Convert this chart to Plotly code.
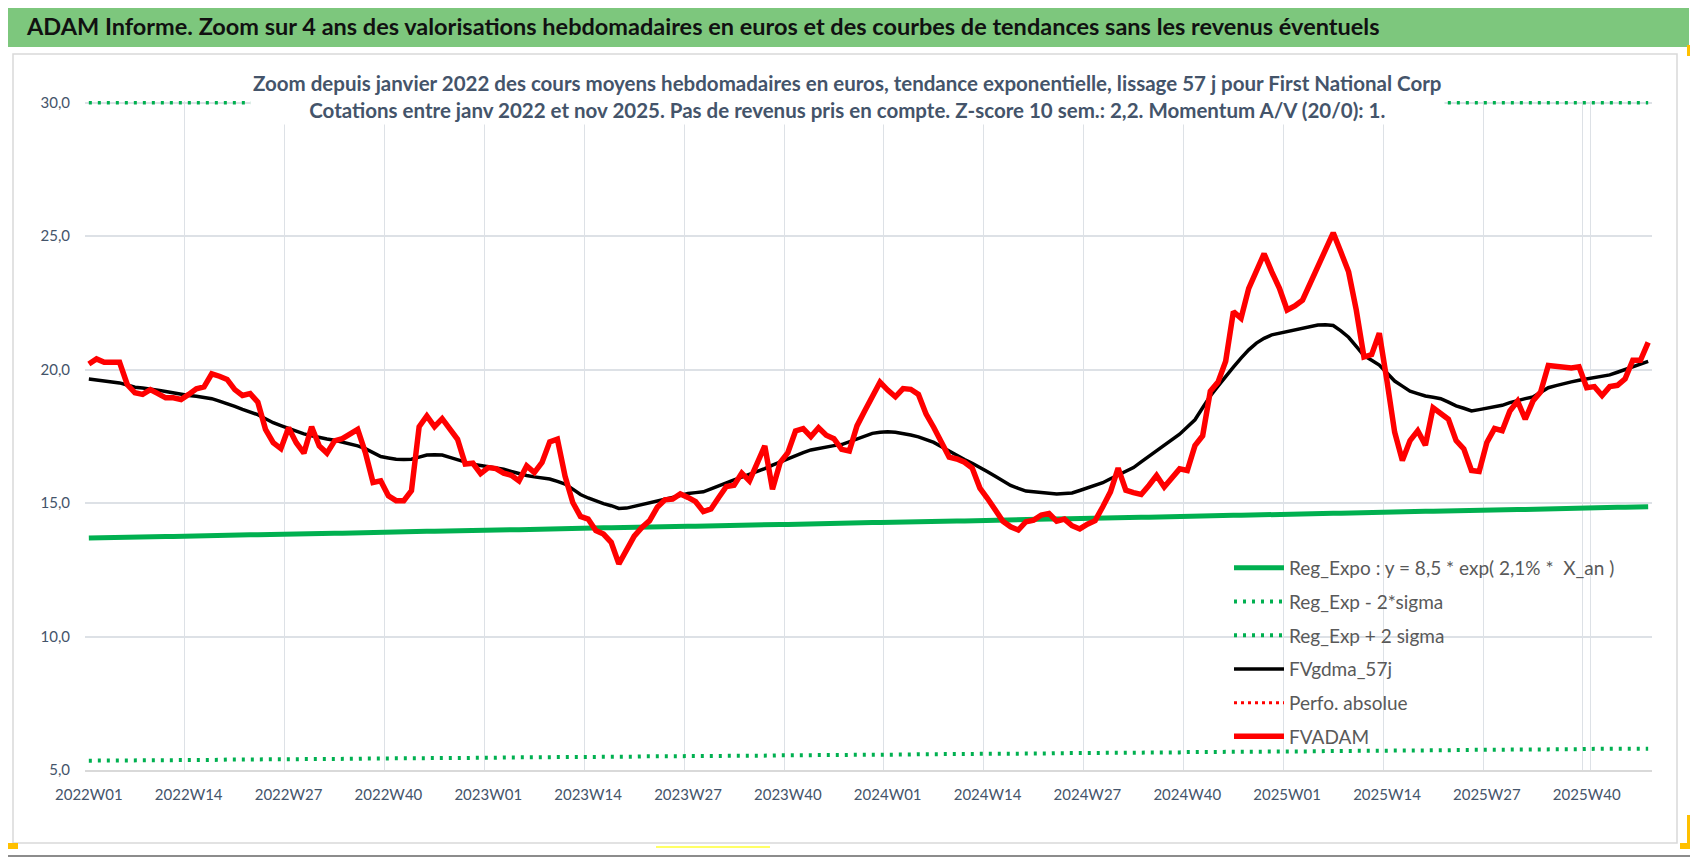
import plotly.graph_objects as go

# weekly categories 2022W01 .. 2025W48
weeks = [f"{y}W{w:02d}" for y in (2022, 2023, 2024, 2025) for w in range(1, 53)][:204]
tick_labels = weeks[::13]

fvadam = [
    20.21, 20.40, 20.27, 20.27, 20.27, 19.44, 19.13, 19.07, 19.25, 19.10,
    18.94, 18.94, 18.88, 19.07, 19.28, 19.35, 19.84, 19.75, 19.63, 19.25,
    19.03, 19.10, 18.78, 17.76, 17.26, 17.04, 17.82, 17.26, 16.87, 17.86,
    17.14, 16.87, 17.33, 17.41, 17.57, 17.76, 16.89, 15.77, 15.83, 15.27,
    15.09, 15.09, 15.46, 17.86, 18.26, 17.86, 18.16, 17.79, 17.39, 16.46,
    16.49, 16.10, 16.33, 16.29, 16.12, 16.04, 15.83, 16.39, 16.14, 16.52,
    17.29, 17.39, 16.00, 15.02, 14.50, 14.40, 13.97, 13.84, 13.53, 12.72,
    13.22, 13.76, 14.09, 14.34, 14.84, 15.12, 15.15, 15.34, 15.21, 15.05,
    14.68, 14.78, 15.21, 15.62, 15.67, 16.12, 15.83, 16.52, 17.14, 15.52,
    16.52, 16.89, 17.70, 17.79, 17.49, 17.82, 17.54, 17.41, 17.01, 16.95,
    17.89, 18.45, 18.95, 19.53, 19.23, 18.98, 19.29, 19.26, 19.07, 18.33,
    17.83, 17.27, 16.72, 16.65, 16.53, 16.31, 15.56, 15.17, 14.70, 14.32,
    14.11, 13.99, 14.30, 14.36, 14.55, 14.61, 14.32, 14.40, 14.15, 14.03,
    14.21, 14.34, 14.86, 15.42, 16.31, 15.48, 15.39, 15.32, 15.66, 16.03,
    15.60, 15.91, 16.28, 16.22, 17.15, 17.52, 19.19, 19.53, 20.31, 22.17,
    21.92, 23.04, 23.70, 24.34, 23.66, 23.04, 22.23, 22.38, 22.60, 23.22,
    23.87, 24.46, 25.12, 24.40, 23.66, 22.23, 20.47, 20.56, 21.36, 19.57,
    17.65, 16.59, 17.34, 17.71, 17.17, 18.57, 18.36, 18.14, 17.34, 17.03,
    16.22, 16.18, 17.27, 17.79, 17.71, 18.45, 18.82, 18.14, 18.82, 19.16,
    20.15, 20.12, 20.06, 20.06, 20.10, 19.32, 19.36, 19.03, 19.36, 19.41,
    19.65, 20.35, 20.35, 21.02,
]

fvgdma_57j = [
    19.65, 19.61, 19.56, 19.53, 19.50, 19.42, 19.34, 19.31, 19.28, 19.23,
    19.18, 19.12, 19.07, 19.03, 19.00, 18.96, 18.91, 18.82, 18.73, 18.62,
    18.51, 18.41, 18.31, 18.16, 18.01, 17.90, 17.79, 17.69, 17.59, 17.52,
    17.45, 17.40, 17.35, 17.29, 17.23, 17.14, 17.04, 16.89, 16.74, 16.69,
    16.64, 16.63, 16.64, 16.72, 16.80, 16.81, 16.80, 16.71, 16.62, 16.52,
    16.45, 16.41, 16.37, 16.32, 16.27, 16.18, 16.09, 16.03, 15.98, 15.94,
    15.90, 15.81, 15.71, 15.52, 15.32, 15.19, 15.07, 14.98, 14.90, 14.80,
    14.81, 14.87, 14.93, 15.00, 15.07, 15.14, 15.21, 15.29, 15.36, 15.39,
    15.42, 15.53, 15.65, 15.76, 15.87, 15.97, 16.07, 16.18, 16.29, 16.42,
    16.54, 16.67, 16.79, 16.89, 16.99, 17.05, 17.11, 17.15, 17.19, 17.29,
    17.39, 17.51, 17.61, 17.65, 17.67, 17.65, 17.61, 17.55, 17.48, 17.38,
    17.27, 17.11, 16.94, 16.79, 16.63, 16.49, 16.34, 16.17, 16.00, 15.83,
    15.66, 15.55, 15.45, 15.42, 15.39, 15.37, 15.34, 15.36, 15.38, 15.47,
    15.56, 15.66, 15.76, 15.91, 16.06, 16.20, 16.33, 16.54, 16.75, 16.95,
    17.15, 17.37, 17.58, 17.85, 18.12, 18.57, 19.01, 19.38, 19.75, 20.09,
    20.43, 20.74, 20.99, 21.17, 21.30, 21.36, 21.41, 21.48, 21.54, 21.61,
    21.67, 21.68, 21.65, 21.45, 21.21, 20.87, 20.52, 20.35, 20.17, 19.87,
    19.57, 19.38, 19.19, 19.10, 19.01, 18.96, 18.91, 18.78, 18.64, 18.55,
    18.45, 18.50, 18.55, 18.60, 18.66, 18.76, 18.85, 18.91, 18.97, 19.15,
    19.32, 19.40, 19.48, 19.54, 19.60, 19.65, 19.69, 19.75, 19.80, 19.90,
    20.00, 20.11, 20.22, 20.31,
]

reg_expo = [
    13.69, 13.70, 13.70, 13.71, 13.71, 13.72, 13.72, 13.73, 13.73, 13.74,
    13.75, 13.75, 13.76, 13.76, 13.77, 13.77, 13.78, 13.78, 13.79, 13.80,
    13.80, 13.81, 13.81, 13.82, 13.82, 13.83, 13.84, 13.84, 13.85, 13.85,
    13.86, 13.86, 13.87, 13.87, 13.88, 13.89, 13.89, 13.90, 13.90, 13.91,
    13.91, 13.92, 13.92, 13.93, 13.94, 13.94, 13.95, 13.95, 13.96, 13.96,
    13.97, 13.97, 13.98, 13.99, 13.99, 14.00, 14.00, 14.01, 14.01, 14.02,
    14.03, 14.03, 14.04, 14.04, 14.05, 14.05, 14.06, 14.07, 14.07, 14.08,
    14.08, 14.09, 14.09, 14.10, 14.11, 14.11, 14.12, 14.12, 14.13, 14.13,
    14.14, 14.15, 14.15, 14.16, 14.16, 14.17, 14.17, 14.18, 14.19, 14.19,
    14.20, 14.20, 14.21, 14.21, 14.22, 14.23, 14.23, 14.24, 14.24, 14.25,
    14.25, 14.26, 14.27, 14.27, 14.28, 14.28, 14.29, 14.29, 14.30, 14.31,
    14.31, 14.32, 14.32, 14.33, 14.33, 14.34, 14.35, 14.35, 14.36, 14.36,
    14.37, 14.38, 14.38, 14.39, 14.39, 14.40, 14.40, 14.41, 14.42, 14.42,
    14.43, 14.43, 14.44, 14.45, 14.45, 14.46, 14.46, 14.47, 14.47, 14.48,
    14.49, 14.49, 14.50, 14.50, 14.51, 14.52, 14.52, 14.53, 14.53, 14.54,
    14.54, 14.55, 14.56, 14.56, 14.57, 14.57, 14.58, 14.59, 14.59, 14.60,
    14.60, 14.61, 14.62, 14.62, 14.63, 14.63, 14.64, 14.65, 14.65, 14.66,
    14.66, 14.67, 14.67, 14.68, 14.69, 14.69, 14.70, 14.70, 14.71, 14.72,
    14.72, 14.73, 14.73, 14.74, 14.75, 14.75, 14.76, 14.76, 14.77, 14.78,
    14.78, 14.79, 14.79, 14.80, 14.81, 14.81, 14.82, 14.82, 14.83, 14.84,
    14.84, 14.85, 14.85, 14.86,
]

reg_minus_2sigma = [
    5.35, 5.35, 5.35, 5.35, 5.36, 5.36, 5.36, 5.36, 5.37, 5.37,
    5.37, 5.37, 5.37, 5.38, 5.38, 5.38, 5.38, 5.38, 5.39, 5.39,
    5.39, 5.39, 5.40, 5.40, 5.40, 5.40, 5.40, 5.41, 5.41, 5.41,
    5.41, 5.42, 5.42, 5.42, 5.42, 5.42, 5.43, 5.43, 5.43, 5.43,
    5.44, 5.44, 5.44, 5.44, 5.44, 5.45, 5.45, 5.45, 5.45, 5.46,
    5.46, 5.46, 5.46, 5.46, 5.47, 5.47, 5.47, 5.47, 5.48, 5.48,
    5.48, 5.48, 5.48, 5.49, 5.49, 5.49, 5.49, 5.49, 5.50, 5.50,
    5.50, 5.50, 5.51, 5.51, 5.51, 5.51, 5.51, 5.52, 5.52, 5.52,
    5.52, 5.53, 5.53, 5.53, 5.53, 5.53, 5.54, 5.54, 5.54, 5.54,
    5.55, 5.55, 5.55, 5.55, 5.55, 5.56, 5.56, 5.56, 5.56, 5.57,
    5.57, 5.57, 5.57, 5.57, 5.58, 5.58, 5.58, 5.58, 5.59, 5.59,
    5.59, 5.59, 5.60, 5.60, 5.60, 5.60, 5.60, 5.61, 5.61, 5.61,
    5.61, 5.62, 5.62, 5.62, 5.62, 5.62, 5.63, 5.63, 5.63, 5.63,
    5.64, 5.64, 5.64, 5.64, 5.65, 5.65, 5.65, 5.65, 5.65, 5.66,
    5.66, 5.66, 5.66, 5.67, 5.67, 5.67, 5.67, 5.68, 5.68, 5.68,
    5.68, 5.68, 5.69, 5.69, 5.69, 5.69, 5.70, 5.70, 5.70, 5.70,
    5.70, 5.71, 5.71, 5.71, 5.71, 5.72, 5.72, 5.72, 5.72, 5.73,
    5.73, 5.73, 5.73, 5.73, 5.74, 5.74, 5.74, 5.74, 5.75, 5.75,
    5.75, 5.75, 5.76, 5.76, 5.76, 5.76, 5.77, 5.77, 5.77, 5.77,
    5.77, 5.78, 5.78, 5.78, 5.78, 5.79, 5.79, 5.79, 5.79, 5.80,
    5.80, 5.80, 5.80, 5.80,
]

# upper band sits above the axis max, shown flat on the 30,0 line
reg_plus_2sigma = [
    30.0, 30.0, 30.0, 30.0, 30.0, 30.0, 30.0, 30.0, 30.0, 30.0, 30.0, 30.0,
    30.0, 30.0, 30.0, 30.0, 30.0, 30.0, 30.0, 30.0, 30.0, 30.0, 30.0, 30.0,
    30.0, 30.0, 30.0, 30.0, 30.0, 30.0, 30.0, 30.0, 30.0, 30.0, 30.0, 30.0,
    30.0, 30.0, 30.0, 30.0, 30.0, 30.0, 30.0, 30.0, 30.0, 30.0, 30.0, 30.0,
    30.0, 30.0, 30.0, 30.0, 30.0, 30.0, 30.0, 30.0, 30.0, 30.0, 30.0, 30.0,
    30.0, 30.0, 30.0, 30.0, 30.0, 30.0, 30.0, 30.0, 30.0, 30.0, 30.0, 30.0,
    30.0, 30.0, 30.0, 30.0, 30.0, 30.0, 30.0, 30.0, 30.0, 30.0, 30.0, 30.0,
    30.0, 30.0, 30.0, 30.0, 30.0, 30.0, 30.0, 30.0, 30.0, 30.0, 30.0, 30.0,
    30.0, 30.0, 30.0, 30.0, 30.0, 30.0, 30.0, 30.0, 30.0, 30.0, 30.0, 30.0,
    30.0, 30.0, 30.0, 30.0, 30.0, 30.0, 30.0, 30.0, 30.0, 30.0, 30.0, 30.0,
    30.0, 30.0, 30.0, 30.0, 30.0, 30.0, 30.0, 30.0, 30.0, 30.0, 30.0, 30.0,
    30.0, 30.0, 30.0, 30.0, 30.0, 30.0, 30.0, 30.0, 30.0, 30.0, 30.0, 30.0,
    30.0, 30.0, 30.0, 30.0, 30.0, 30.0, 30.0, 30.0, 30.0, 30.0, 30.0, 30.0,
    30.0, 30.0, 30.0, 30.0, 30.0, 30.0, 30.0, 30.0, 30.0, 30.0, 30.0, 30.0,
    30.0, 30.0, 30.0, 30.0, 30.0, 30.0, 30.0, 30.0, 30.0, 30.0, 30.0, 30.0,
    30.0, 30.0, 30.0, 30.0, 30.0, 30.0, 30.0, 30.0, 30.0, 30.0, 30.0, 30.0,
    30.0, 30.0, 30.0, 30.0, 30.0, 30.0, 30.0, 30.0, 30.0, 30.0, 30.0, 30.0,
]

# the page body has an 8px margin, so the figure is drawn 8px in from the window corner
OFF = 8
W, H = 1698 - OFF, 857 - OFF
ML, MR, MT, MB = 85 - OFF, 46, 101 - OFF, 87
FONT = "Lato, Roboto, sans-serif"
GREEN = "#00B050"
TXT = "#44546A"


# positions below are given in window pixels
def fx(px):
    return (px - OFF - ML) / (W - ML - MR)


def fy(py):
    return (H - MB - (py - OFF)) / (H - MT - MB)


fig = go.Figure()

fig.add_trace(go.Scatter(x=weeks, y=reg_expo, mode="lines", legendgroup="a",
                         name="Reg_Expo : y = 8,5 * exp( 2,1% *  X_an )",
                         line=dict(color=GREEN, width=5)))
fig.add_trace(go.Scatter(x=weeks, y=reg_minus_2sigma, mode="lines", legendgroup="b",
                         name="Reg_Exp - 2*sigma",
                         line=dict(color=GREEN, width=4, dash="3px,6px")))
fig.add_trace(go.Scatter(x=weeks, y=reg_plus_2sigma, mode="lines", legendgroup="c",
                         name="Reg_Exp + 2 sigma",
                         line=dict(color=GREEN, width=4, dash="3px,6px")))
fig.add_trace(go.Scatter(x=weeks, y=fvgdma_57j, mode="lines", legendgroup="d",
                         name="FVgdma_57j",
                         line=dict(color="black", width=3.5)))
fig.add_trace(go.Scatter(x=weeks[:1], y=[None], mode="lines", legendgroup="e",
                         name="Perfo. absolue",
                         line=dict(color="#FF0000", width=3, dash="3px,4px")))
fig.add_trace(go.Scatter(x=weeks, y=fvadam, mode="lines", legendgroup="f",
                         name="FVADAM",
                         line=dict(color="#FF0000", width=5.5)))

shapes = [
    # bottom and right border of the picture
    dict(type="line", xref="paper", yref="paper",
         x0=fx(OFF), x1=fx(1697), y0=fy(856), y1=fy(856),
         line=dict(color="#8C8C8C", width=2)),
    dict(type="line", xref="paper", yref="paper",
         x0=fx(1697), x1=fx(1697), y0=fy(OFF), y1=fy(856),
         line=dict(color="#8C8C8C", width=2)),
    # green title band
    dict(type="rect", xref="paper", yref="paper",
         x0=fx(OFF), x1=fx(1689), y0=fy(OFF), y1=fy(47),
         fillcolor="#7DC77D", line=dict(width=0), layer="below"),
    # chart frame
    dict(type="rect", xref="paper", yref="paper",
         x0=fx(13), x1=fx(1677), y0=fy(54), y1=fy(843),
         line=dict(color="#D9D9D9", width=1.5), layer="below"),
    # selection marks
    dict(type="rect", xref="paper", yref="paper",
         x0=fx(OFF), x1=fx(18), y0=fy(843), y1=fy(849),
         fillcolor="#FFC000", line=dict(width=0)),
    dict(type="rect", xref="paper", yref="paper",
         x0=fx(656), x1=fx(770), y0=fy(846), y1=fy(848),
         fillcolor="#FFFF66", line=dict(width=0)),
    dict(type="rect", xref="paper", yref="paper",
         x0=fx(1687), x1=fx(1691), y0=fy(45), y1=fy(56),
         fillcolor="#FFC000", line=dict(width=0)),
    dict(type="rect", xref="paper", yref="paper",
         x0=fx(1680), x1=fx(1691), y0=fy(815), y1=fy(849),
         fillcolor="#FFC000", line=dict(width=0)),
    dict(type="rect", xref="paper", yref="paper",
         x0=fx(1678), x1=fx(1687), y0=fy(815), y1=fy(843),
         fillcolor="white", line=dict(width=0)),
]

annotations = [
    dict(text="<b>ADAM Informe. Zoom sur 4 ans des valorisations hebdomadaires en euros "
              "et des courbes de tendances sans les revenus éventuels</b>",
         xref="paper", yref="paper", x=fx(24), y=fy(26),
         xanchor="left", yanchor="middle", showarrow=False,
         font=dict(family=FONT, size=23.5, color="#111111")),
    dict(text="<b>Zoom depuis janvier 2022 des cours moyens hebdomadaires en euros, "
              "tendance exponentielle, lissage 57 j pour First National Corp</b><br>"
              "<b>Cotations entre janv 2022 et nov 2025. Pas de revenus pris en compte. "
              "Z-score 10 sem.: 2,2. Momentum A/V (20/0): 1.</b>",
         xref="paper", yref="paper", x=fx(847), y=fy(97),
         xanchor="center", yanchor="middle", showarrow=False, align="center",
         bgcolor="white", borderpad=2,
         font=dict(family=FONT, size=20.5, color=TXT)),
]

fig.update_layout(
    width=W, height=H,
    margin=dict(l=ML, r=MR, t=MT, b=MB, autoexpand=False),
    paper_bgcolor="white", plot_bgcolor="white",
    separators=", ",
    font=dict(family=FONT, color=TXT),
    shapes=shapes,
    annotations=annotations,
    showlegend=True,
    legend=dict(x=fx(1229), y=fy(549), xanchor="left", yanchor="top",
                bgcolor="rgba(0,0,0,0)", font=dict(family=FONT, size=19, color="#595959"),
                traceorder="grouped", tracegroupgap=6, itemwidth=50),
    xaxis=dict(
        type="category", range=[-0.5, len(weeks) - 0.5], automargin=False,
        tickmode="array", tickvals=tick_labels, ticktext=tick_labels, tickangle=0,
        tickson="boundaries", ticks="", showgrid=True, gridcolor="#DDE1E6", gridwidth=1,
        showline=True, linecolor="#D9D9D9", linewidth=1.5,
        tickfont=dict(family=FONT, size=15, color=TXT), ticklabelstandoff=10,
    ),
    yaxis=dict(
        range=[5, 30.06], tickmode="array", tickvals=[5, 10, 15, 20, 25, 30],
        tickformat=".1f", showgrid=True, gridcolor="#DDE1E6", gridwidth=1.5,
        zeroline=False, showline=False, ticks="", automargin=False,
        tickfont=dict(family=FONT, size=15, color=TXT), ticklabelstandoff=14,
    ),
)

fig.write_html("out.html")
